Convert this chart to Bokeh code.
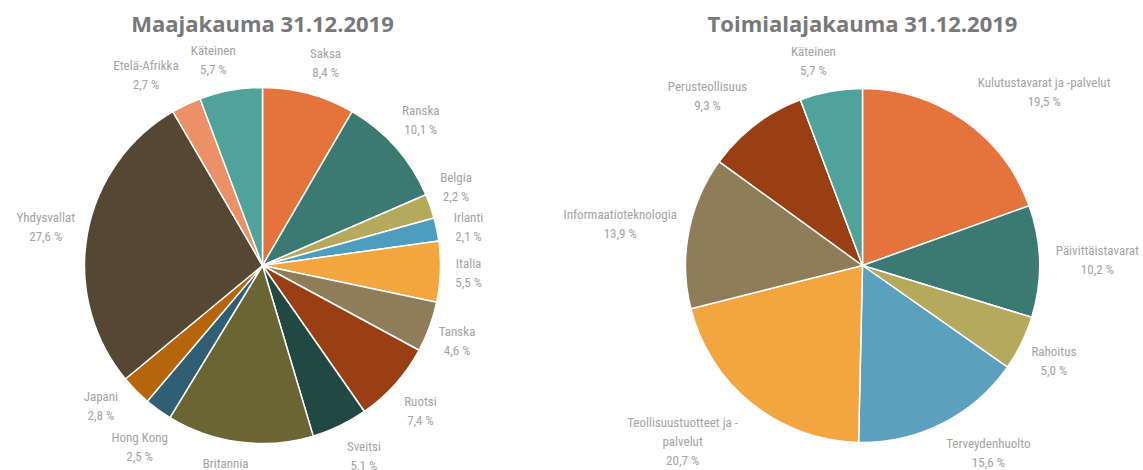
import math
from bokeh.plotting import figure
from bokeh.models import Range1d, ColumnDataSource
from bokeh.embed import file_html
from bokeh.resources import INLINE
from bokeh.core.properties import value

# ---- data ----
country_title = "Maajakauma 31.12.2019"
country_names = ["Saksa", "Ranska", "Belgia", "Irlanti", "Italia", "Tanska", "Ruotsi",
                 "Sveitsi", "Britannia", "Hong Kong", "Japani", "Yhdysvallat",
                 "Etelä-Afrikka", "Käteinen"]
country_values = [8.4, 10.1, 2.2, 2.1, 5.5, 4.6, 7.4, 5.1, 13.3, 2.5, 2.8, 27.6, 2.7, 5.7]
country_colors = ["#E5733C", "#3B7A72", "#B5A95B", "#4C9DBE", "#F3A640", "#8E7D58",
                  "#9A3F14", "#214842", "#6B6433", "#2E5F74", "#B7650B", "#554733",
                  "#EC9068", "#4FA39B"]

sector_title = "Toimialajakauma 31.12.2019"
sector_names = ["Kulutustavarat ja -palvelut", "Päivittäistavarat", "Rahoitus",
                "Terveydenhuolto", "Teollisuustuotteet ja -\npalvelut",
                "Informaatioteknologia", "Perusteollisuus", "Käteinen"]
sector_values = [19.5, 10.2, 5.0, 15.6, 20.7, 13.9, 9.3, 5.7]
sector_colors = ["#E5733C", "#3B7A72", "#B5A95B", "#5BA1BE", "#F3A640", "#8E7D58",
                 "#9A3F14", "#4FA39B"]

W, H = 1143, 470
LABEL_FONT = "Roboto Condensed"
LINE_H = 19
CHAR_W = 5.4

p = figure(width=W, height=H, x_range=Range1d(0, W), y_range=Range1d(0, H),
           output_backend="svg", toolbar_location=None, min_border=0)
p.axis.visible = False
p.grid.visible = False
p.outline_line_color = None
p.background_fill_color = "white"
p.border_fill_color = "white"


def clip(v):
    return max(-1.0, min(1.0, v))


def draw_pie(cx, cy, r, names, values, colors, title):
    total = sum(values)
    starts, ends, mids, blocks = [], [], [], []
    cum = 0.0
    for n, v in zip(names, values):
        a0 = cum / total
        a1 = (cum + v) / total
        starts.append(math.pi / 2 - 2 * math.pi * a1)
        ends.append(math.pi / 2 - 2 * math.pi * a0)
        mids.append(math.pi * (a0 + a1))
        lines = n.split("\n") + [f"{v:.1f}".replace(".", ",") + " %"]
        blocks.append(lines)
        cum += v

    sizes = [(max(len(s) for s in b) * CHAR_W, len(b) * LINE_H) for b in blocks]
    R0 = r + 12

    def box(th, w, h):
        px = cx + R0 * math.sin(th)
        py = cy + R0 * math.cos(th)
        return px + w / 2 * clip(4 * math.sin(th)), py + h / 2 * clip(1.5 * math.cos(th))

    ths = list(mids)
    n = len(ths)
    for _ in range(400):
        moved = False
        for i in range(n):
            j = (i + 1) % n
            (xi, yi), (xj, yj) = box(ths[i], *sizes[i]), box(ths[j], *sizes[j])
            if (abs(xi - xj) < (sizes[i][0] + sizes[j][0]) / 2 + 2 and
                    abs(yi - yj) < (sizes[i][1] + sizes[j][1]) / 2 + 2):
                ths[i] -= 0.004
                ths[j] += 0.004
                moved = True
        if not moved:
            break

    lx, ly, lt = [], [], []
    for th, (w, h), lines in zip(ths, sizes, blocks):
        ccx, ccy = box(th, w, h)
        for i, s in enumerate(lines):
            lx.append(ccx)
            ly.append(ccy + h / 2 - LINE_H * (i + 0.5))
            lt.append(s)

    src = ColumnDataSource(dict(start=starts, end=ends, color=colors))
    p.wedge(x=cx, y=cy, radius=r, start_angle="start", end_angle="end",
            fill_color="color", line_color="white", line_width=1.5, source=src)
    p.text(x=lx, y=ly, text=lt, text_font=value(LABEL_FONT), text_font_size="13px",
           text_color="#a3a3a3", text_align="center", text_baseline="middle")
    p.text(x=[cx], y=[H - 22], text=[title], text_font=value("Open Sans"),
           text_font_style="bold", text_font_size="22px", text_color="#787878",
           text_align="center", text_baseline="middle")


draw_pie(262, 205, 178, country_names, country_values, country_colors, country_title)
draw_pie(862, 205, 177, sector_names, sector_values, sector_colors, sector_title)

open("out.html", "w").write(file_html(p, INLINE))
